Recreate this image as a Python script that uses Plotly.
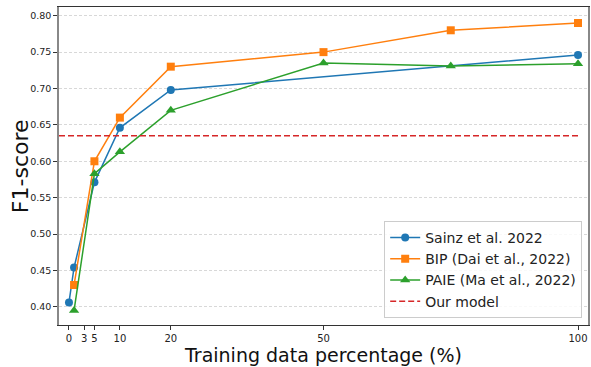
import plotly.graph_objects as go

# Data
sainz_x = [0, 1, 5, 10, 20, 100]
sainz_y = [0.406, 0.454, 0.571, 0.646, 0.698, 0.746]
bip_x = [1, 5, 10, 20, 50, 75, 100]
bip_y = [0.430, 0.600, 0.660, 0.730, 0.750, 0.780, 0.790]
paie_x = [1, 5, 10, 20, 50, 75, 100]
paie_y = [0.395, 0.583, 0.613, 0.670, 0.735, 0.731, 0.734]
our_model = 0.635
x_ticks = [0, 3, 5, 10, 20, 50, 100]
y_ticks = [0.40, 0.45, 0.50, 0.55, 0.60, 0.65, 0.70, 0.75, 0.80]

x_range = [-1.96, 101.96]
y_range = [0.375, 0.812]

font = "DejaVu Sans"
fig = go.Figure()
fig.add_trace(go.Scatter(x=sainz_x, y=sainz_y, mode="lines+markers", name="Sainz et al. 2022",
                         line=dict(color="#1f77b4", width=1.5),
                         marker=dict(symbol="circle", size=8, color="#1f77b4")))
fig.add_trace(go.Scatter(x=bip_x, y=bip_y, mode="lines+markers", name="BIP (Dai et al., 2022)",
                         line=dict(color="#ff7f0e", width=1.5),
                         marker=dict(symbol="square", size=8, color="#ff7f0e")))
fig.add_trace(go.Scatter(x=paie_x, y=paie_y, mode="lines+markers", name="PAIE (Ma et al., 2022)",
                         line=dict(color="#2ca02c", width=1.5),
                         marker=dict(symbol="triangle-up", size=9, color="#2ca02c")))
fig.add_trace(go.Scatter(x=[x_range[0], x_ticks[-1]], y=[our_model, our_model], mode="lines",
                         name="Our model", line=dict(color="#d62728", width=1.5, dash="6px,3px")))

fig.update_layout(
    width=591, height=367,
    margin=dict(l=59, r=1, t=7, b=42),
    paper_bgcolor="white", plot_bgcolor="white",
    font=dict(family=font, color="#222"),
    legend=dict(x=0.989, y=0.022, xanchor="right", yanchor="bottom",
                bgcolor="rgba(255,255,255,0.85)", bordercolor="#cccccc", borderwidth=1,
                font=dict(size=14, family=font, color="#222"), itemwidth=30,
                tracegroupgap=0),
    xaxis=dict(range=x_range, tickmode="array", tickvals=x_ticks,
               ticktext=[str(v) for v in x_ticks],
               showgrid=False, zeroline=False, showline=True, linecolor="#333", linewidth=1,
               mirror=True, ticks="outside", ticklen=4, tickcolor="#333",
               tickfont=dict(size=10, family=font, color="#222"),
               title=dict(text="Training data percentage (%)", font=dict(size=19, family=font, color="#111"),
                          standoff=1)),
    yaxis=dict(range=y_range, tickmode="array", tickvals=y_ticks,
               ticktext=[f"{v:.2f}" for v in y_ticks],
               showgrid=True, gridcolor="#d8d8d8", griddash="3px,2px", gridwidth=1,
               zeroline=False, showline=True, linecolor="#888", linewidth=1.5,
               mirror=True, ticks="outside", ticklen=4, tickcolor="#333",
               tickfont=dict(size=9.5, family=font, color="#222")),
    annotations=[dict(text="F1-score", textangle=-90, xref="paper", yref="paper",
                      x=-0.0734, y=0.5, xanchor="center", yanchor="middle", showarrow=False,
                      font=dict(size=22, family=font, color="#111"))],
)

fig.write_html("out.html", config={"displayModeBar": False},
               post_script="document.body.style.margin='0';document.body.style.overflow='hidden';")
